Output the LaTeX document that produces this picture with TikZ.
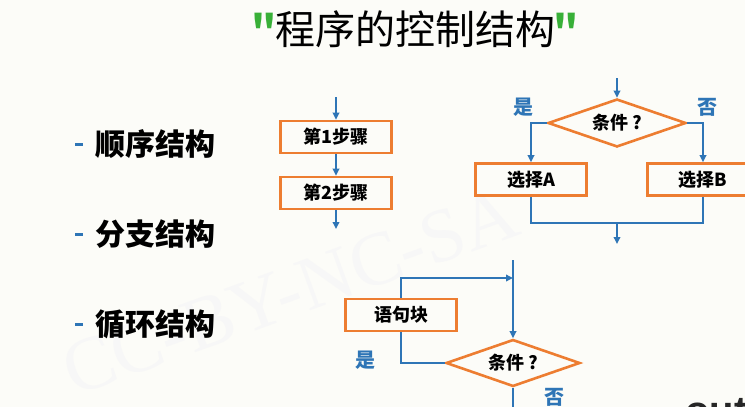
\documentclass[tikz,border=0pt]{standalone}
\usepackage{fontspec}
\setmainfont{Noto Sans CJK SC}
\newfontfamily\quotefont{Noto Sans CJK SC}
\newfontfamily\markfont{Liberation Serif}
\newfontfamily\outfont{Liberation Sans}
\usetikzlibrary{shapes.geometric,arrows.meta}
\definecolor{boxorange}{RGB}{237,125,49}
\definecolor{lineblue}{RGB}{46,117,182}
\definecolor{quotegreen}{RGB}{56,176,56}
\definecolor{paper}{RGB}{252,252,248}
\newcommand{\greenquote}{\textcolor{quotegreen}{\quotefont\bfseries\char34}}

\begin{document}
\begin{tikzpicture}[x=1pt,y=-1pt,
  box/.style={draw=boxorange, line width=2.6pt, minimum width=111pt, minimum height=32pt, inner sep=0pt, font=\fontsize{18}{18}\selectfont\bfseries},
  cond/.style={draw=boxorange, line width=2.6pt, diamond, aspect=3, inner sep=0pt, font=\fontsize{18}{18}\selectfont\bfseries},
  flow/.style={draw=lineblue, line width=2pt, -{Triangle[length=7pt,width=6.5pt]}},
  link/.style={draw=lineblue, line width=2pt},
  item/.style={anchor=west, inner sep=0pt, font=\fontsize{30}{30}\selectfont\bfseries},
  yesno/.style={inner sep=0pt, text=lineblue, font=\fontsize{20}{20}\selectfont\bfseries}]
\fill[paper] (0,0) rectangle (745,407);
\clip (0,0) rectangle (745,407);

% watermark
\node[text=black!3, rotate=20, font=\markfont\fontsize{76}{76}\selectfont] (mark) at (290,292) {CC-BY-NC-SA};

% title
\node (title) at (415,29) {\fontsize{40}{40}\selectfont\greenquote\kern-2pt程序的控制结构\kern-2pt\greenquote};

% left column
\fill[lineblue] (75,142.5) rectangle (83,145.5);
\fill[lineblue] (75,233) rectangle (83,236);
\fill[lineblue] (75,323) rectangle (83,326);
\node[item] (seq) at (95,144) {顺序结构};
\node[item] (branch) at (95,234.5) {分支结构};
\node[item] (loop) at (95,324.5) {循环结构};

% sequence
\coordinate (s0) at (336,97);
\node[box] (s1) at (336,137) {第1步骤};
\node[box] (s2) at (336,193) {第2步骤};
\coordinate (s3) at (336,229);
\draw[flow] (s0) -- (s1);
\draw[flow] (s1) -- (s2);
\draw[flow] (s2) -- (s3);

% branch
\coordinate (b0) at (617,78);
\node[cond, minimum width=138pt, minimum height=48pt] (c1) at (617,123) {条件 ?};
\node[box] (ba) at (531,179.5) {选择A};
\node[box] (bb) at (703,179.5) {选择B};
\coordinate (bm) at (617,223);
\coordinate (b1) at (617,244);
\draw[flow] (b0) -- (c1);
\draw[flow] (c1.west) -| (ba.north);
\draw[flow] (c1.east) -| (bb.north);
\draw[link] (ba.south) |- (bm) -| (bb.south);
\draw[flow] (bm) -- (b1);
\node[yesno] (yes1) at (523,107) {是};
\node[yesno] (no1) at (707,107) {否};

% loop
\coordinate (l0) at (513,260);
\node[cond, minimum width=134pt, minimum height=47pt] (c2) at (513,363) {条件 ?};
\node[box] (body) at (401,315) {语句块};
\coordinate (l1) at (513,420);
\draw[flow] (l0) -- (c2);
\draw[link] (c2.west) -| (body.south);
\draw[flow] (body.north) |- (l0 |- 0,278);
\draw[flow] (c2) -- (l1);
\node[yesno] (yes2) at (365,360) {是};
\node[yesno] (no2) at (554,397) {否};

% cut-off word in the corner
\node[anchor=base west, inner sep=0pt, text=black!85, font=\outfont\bfseries\fontsize{40}{40}\selectfont] (cut) at (685,424) {out};
\end{tikzpicture}
\end{document}
